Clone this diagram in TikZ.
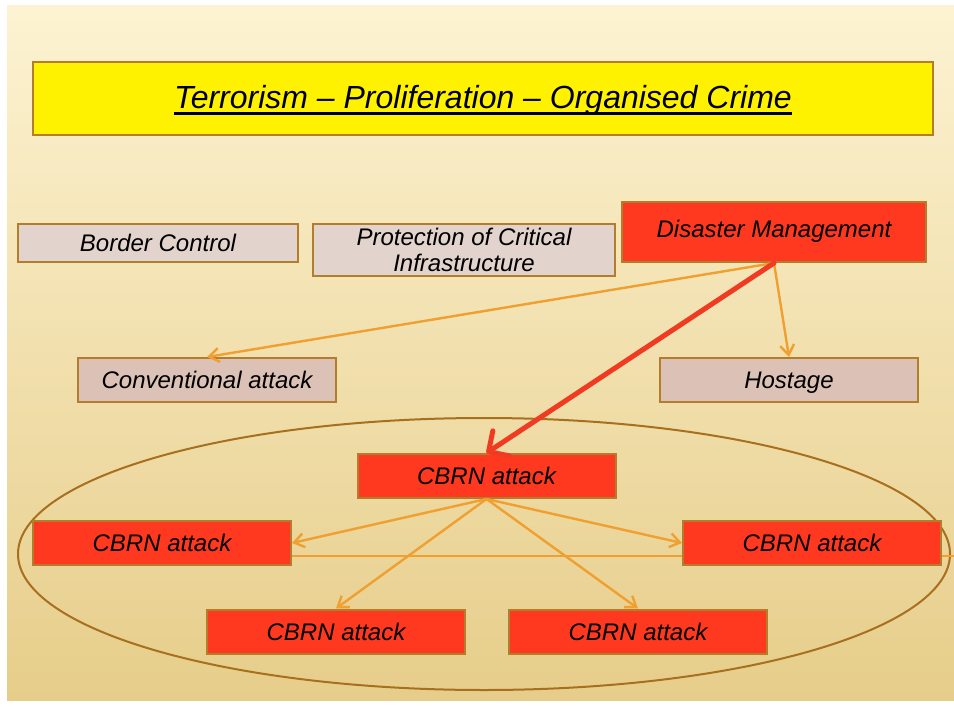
\documentclass[tikz,border=0pt]{standalone}
\usepackage{fontspec}
\setmainfont{Liberation Sans}
\usepackage{tikz}
\usetikzlibrary{arrows.meta,calc}
\definecolor{slidetop}{HTML}{FDF3D2}
\definecolor{slidebot}{HTML}{E6CD8A}
\definecolor{frame}{HTML}{B47D2C}
\definecolor{redfill}{HTML}{FF3820}
\definecolor{greyfill}{HTML}{E2D3CC}
\definecolor{pinkfill}{HTML}{DCC1B6}
\definecolor{linkorange}{HTML}{F0A030}
\definecolor{linkred}{HTML}{F03A22}
\definecolor{ringbrown}{HTML}{A8701E}
\newcommand{\titleul}[1]{\setbox0\hbox{#1}\rlap{\rule[-7pt]{\wd0}{3pt}}\box0}
\tikzset{
  box/.style={rectangle, draw=frame, line width=2pt, minimum width=258pt, minimum height=44pt, inner sep=0pt, align=center, font=\fontsize{24}{26}\selectfont\itshape},
  oneline/.style={text height=17pt, text depth=0pt},
  redbox/.style={box, oneline, fill=redfill},
  greybox/.style={box, oneline, fill=greyfill},
  pinkbox/.style={box, oneline, fill=pinkfill},
  link/.style={-{Straight Barb[length=10pt,width=14pt]}, draw=linkorange, line width=2.4pt},
  biglink/.style={-{Straight Barb[length=15pt,width=30pt,round]}, draw=linkred, line width=5pt, line cap=round}
}

\begin{document}
\begin{tikzpicture}[x=1pt,y=-1pt]
  \useasboundingbox (0,0) rectangle (954,707);
  \fill[white] (0,0) rectangle (954,707);
  \shade[top color=slidetop, bottom color=slidebot] (7,5) rectangle (954,700);

  % ring round the CBRN group
  \draw[ringbrown, line width=2pt] (484,554) ellipse [x radius=466, y radius=136];

  \node[box, fill=yellow, minimum width=900pt, minimum height=73pt, text depth=4pt, font=\fontsize{32}{34}\selectfont\itshape] (Title) at (483,98.5) {\titleul{Terrorism -- Proliferation -- Organised Crime}};

  \node[greybox, minimum width=280pt, minimum height=38pt] (Border) at (158,243) {Border Control};
  \node[box, fill=greyfill, minimum width=302pt, minimum height=52pt] (Protect) at (464,250) {Protection of Critical\\Infrastructure};
  \node[redbox, minimum width=304pt, minimum height=60pt, text depth=6pt] (Disaster) at (774,232) {Disaster Management};
  \node[pinkbox] (Conv) at (207,380) {Conventional attack};
  \node[pinkbox] (Hostage) at (789,380) {Hostage};

  \coordinate (rimR) at (954,556);
  \node[redbox] (CbrnT) at (486.5,476) {CBRN attack};
  \node[redbox] (CbrnL) at (162,543) {CBRN attack};
  \draw[linkorange, line width=2pt] (CbrnL.east |- rimR) -- (rimR);
  \node[redbox] (CbrnR) at (812,543) {CBRN attack};
  \node[redbox] (CbrnBL) at (336,631.5) {CBRN attack};
  \node[redbox] (CbrnBR) at (638,631.5) {CBRN attack};

  \path (Disaster.south) edge [link] (Conv.north)
        (Disaster.south) edge [link] (Hostage.north)
        (Disaster.south) edge [biglink] (CbrnT.north);
  \path (CbrnT.south) edge [link] (CbrnL.east)
        (CbrnT.south) edge [link] (CbrnR.west)
        (CbrnT.south) edge [link] (CbrnBL.north)
        (CbrnT.south) edge [link] (CbrnBR.north);
\end{tikzpicture}
\end{document}
